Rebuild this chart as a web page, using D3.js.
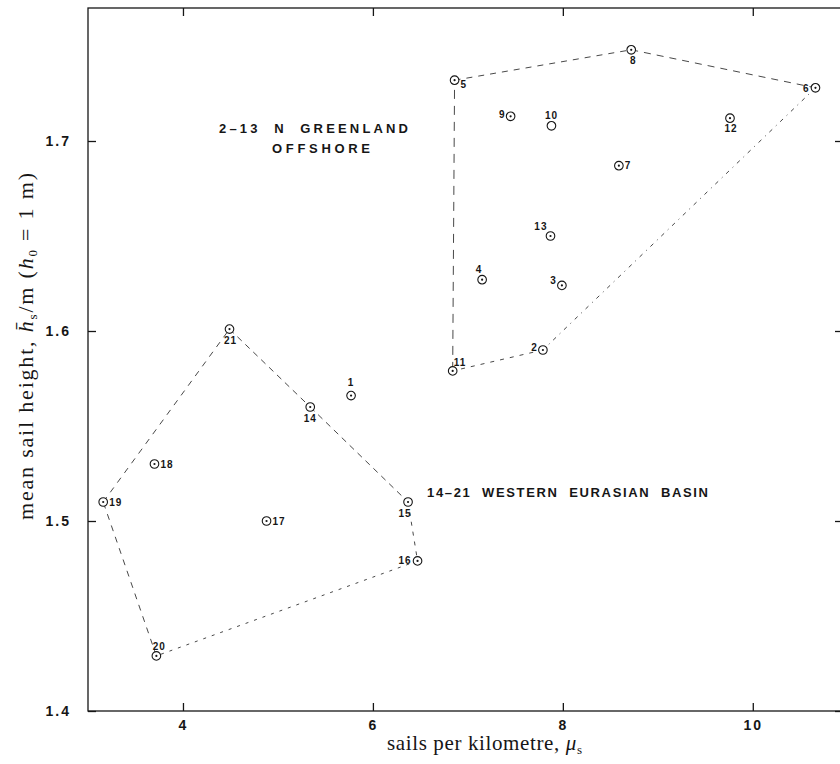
<!DOCTYPE html>
<html>
<head>
<meta charset="utf-8">
<script src="https://cdn.jsdelivr.net/npm/d3@7"></script>
<style>
  body { margin: 0; background: #fff; }
  svg { display: block; }
</style>
</head>
<body>
<svg id="chart" width="840" height="764"></svg>
<script>
// Station numbers with sail frequency and mean sail height
const stationIds     = [1, 2, 3, 4, 5, 6, 7, 8, 9, 10, 11, 12, 13, 14, 15, 16, 17, 18, 19, 20, 21];
const sailsPerKm     = [5.77, 7.79, 7.99, 7.15, 6.86, 10.66, 8.59, 8.72, 7.45, 7.88, 6.84, 9.76, 7.87,
                        5.34, 6.37, 6.47, 4.88, 3.70, 3.16, 3.72, 4.49];
const meanSailHeight = [1.566, 1.590, 1.624, 1.627, 1.732, 1.728, 1.687, 1.748, 1.713, 1.708, 1.579, 1.712, 1.650,
                        1.560, 1.510, 1.479, 1.500, 1.530, 1.510, 1.429, 1.601];

// Stations without a centre dot
const openMarkers = [10];

// Outline polygons around each region (station order)
const greenlandOutline = [5, 8, 6, 2, 11];
const eurasianOutline  = [21, 14, 15, 16, 20, 19];

const xTicks = [4, 6, 8, 10];
const yTicks = [1.4, 1.5, 1.6, 1.7];

const regionLabels = [
  { lines: ["2\u201313  N  GREENLAND", "OFFSHORE"] },
  { lines: ["14\u201321  WESTERN  EURASIAN  BASIN"] }
];

// Label placement around each marker: [dx, dy, anchor]
const labelPlacement = {
  1: [0, -13, "middle"], 2: [-5, -3, "end"], 3: [-5, -5, "end"], 4: [-3, -10, "middle"],
  5: [6, 4, "start"], 6: [-6, 1, "end"], 7: [6, 0, "start"], 8: [2, 11, "middle"],
  9: [-5, -2, "end"], 10: [0, -10, "middle"], 11: [1, -9, "start"], 12: [1, 10, "middle"],
  13: [-3, -10, "end"], 14: [0, 11, "middle"], 15: [-3, 11, "middle"], 16: [-6, -1, "end"],
  17: [6, 0, "start"], 18: [6, 0, "start"], 19: [6, 0, "start"], 20: [3, -10, "middle"],
  21: [1, 11, "middle"]
};

const svg = d3.select("#chart");
const ink = "#161616";

const x = d3.scaleLinear().domain([3, 10.95]).range([88, 843]);
const y = d3.scaleLinear().domain([1.4, 1.77]).range([711, 8]);

const points = stationIds.map((id, i) => ({ id, sx: sailsPerKm[i], sy: meanSailHeight[i] }));
const byId = new Map(points.map(p => [p.id, p]));

// Frame
const [x0, x1] = x.range();
const [yb, yt] = y.range();
svg.append("rect")
  .attr("x", x0).attr("y", yt).attr("width", x1 - x0).attr("height", yb - yt)
  .attr("fill", "none").attr("stroke", ink).attr("stroke-width", 1.3);

// Inward ticks on all four sides
const tickLen = 8;
const tickFont = "'Liberation Sans', Arial, sans-serif";

const bottomAxis = d3.axisBottom(x).tickValues(xTicks).tickSize(-tickLen).tickFormat(d3.format("d")).tickPadding(9);
const topAxis = d3.axisTop(x).tickValues(xTicks).tickSize(-tickLen).tickFormat("");
const leftAxis = d3.axisLeft(y).tickValues(yTicks).tickSize(-tickLen).tickFormat(d3.format(".1f")).tickPadding(17);
const rightAxis = d3.axisRight(y).tickValues(yTicks).tickSize(-tickLen).tickFormat("");

function styleAxis(g) {
  g.select(".domain").remove();
  g.selectAll(".tick line").attr("stroke", ink).attr("stroke-width", 1.3);
  g.selectAll(".tick text")
    .attr("fill", ink)
    .style("font-family", tickFont)
    .style("font-weight", "bold")
    .style("font-size", "14px")
    .style("letter-spacing", "2px");
}

svg.append("g").attr("transform", `translate(0,${yb})`).call(bottomAxis).call(styleAxis);
svg.append("g").attr("transform", `translate(0,${yt})`).call(topAxis).call(styleAxis);
svg.append("g").attr("transform", `translate(${x0},0)`).call(leftAxis).call(styleAxis);
svg.append("g").attr("transform", `translate(${x1},0)`).call(rightAxis).call(styleAxis);

// Dashed outlines, drawn edge by edge
function drawOutline(ids, dashes) {
  ids.forEach((id, k) => {
    const a = byId.get(id), b = byId.get(ids[(k + 1) % ids.length]);
    svg.append("line")
      .attr("x1", x(a.sx)).attr("y1", y(a.sy))
      .attr("x2", x(b.sx)).attr("y2", y(b.sy))
      .attr("stroke", "#333").attr("stroke-width", 0.9)
      .attr("stroke-dasharray", dashes[k]);
  });
}
drawOutline(greenlandOutline, ["6,6", "7,6", "4,5,1,5", "4,6", "9,7"]);
drawOutline(eurasianOutline, ["6,5", "6,5", "4,6", "3,6", "6,6", "6,6"]);

// Markers: circle with centre dot
const marks = svg.append("g").selectAll("g").data(points).join("g")
  .attr("transform", d => `translate(${x(d.sx)},${y(d.sy)})`);
marks.append("circle").attr("r", 4.3)
  .attr("fill", "#fff").attr("stroke", ink).attr("stroke-width", 1.1);
marks.filter(d => !openMarkers.includes(d.id))
  .append("circle").attr("r", 1.1).attr("fill", ink);

// Station numbers
svg.append("g").selectAll("text").data(points).join("text")
  .attr("x", d => x(d.sx) + labelPlacement[d.id][0])
  .attr("y", d => y(d.sy) + labelPlacement[d.id][1])
  .attr("dy", "0.36em")
  .attr("text-anchor", d => labelPlacement[d.id][2])
  .attr("fill", ink)
  .style("font-family", tickFont)
  .style("font-weight", "bold")
  .style("font-size", "10px")
  .style("letter-spacing", "1px")
  .text(d => d.id);

// Region captions
const captionStyle = sel => sel
  .attr("fill", ink)
  .attr("lengthAdjust", "spacing")
  .style("font-family", tickFont)
  .style("font-weight", "bold")
  .style("font-size", "13px")
  .style("white-space", "pre");

svg.append("text").attr("x", 219).attr("y", 133).attr("textLength", 189)
  .call(captionStyle).text(regionLabels[0].lines[0]);
svg.append("text").attr("x", 272).attr("y", 153).attr("textLength", 98)
  .call(captionStyle).text(regionLabels[0].lines[1]);
svg.append("text").attr("x", 427).attr("y", 497).attr("textLength", 281)
  .call(captionStyle).text(regionLabels[1].lines[0]);

// Axis titles
const serif = "'Liberation Serif', 'DejaVu Serif', serif";
const xTitle = svg.append("text")
  .attr("x", 387).attr("y", 750)
  .attr("textLength", 195).attr("lengthAdjust", "spacing")
  .attr("fill", ink).style("font-family", serif).style("font-size", "21px");
xTitle.append("tspan").text("sails per kilometre, ");
xTitle.append("tspan").style("font-style", "italic").text("\u03bc");
xTitle.append("tspan").attr("dy", 4).style("font-size", "13px").text("s");

const yTitle = svg.append("text")
  .attr("transform", "translate(33,520) rotate(-90)")
  .attr("textLength", 347).attr("lengthAdjust", "spacing")
  .attr("fill", ink).style("font-family", serif).style("font-size", "22px");
yTitle.append("tspan").text("mean sail height, ");
yTitle.append("tspan").style("font-style", "italic").text("h\u0304");
yTitle.append("tspan").attr("dy", 4).style("font-size", "13px").text("s");
yTitle.append("tspan").attr("dy", -4).text("/m (");
yTitle.append("tspan").style("font-style", "italic").text("h");
yTitle.append("tspan").attr("dy", 4).style("font-size", "13px").text("0");
yTitle.append("tspan").attr("dy", -4).text(" = 1 m)");
</script>
</body>
</html>
